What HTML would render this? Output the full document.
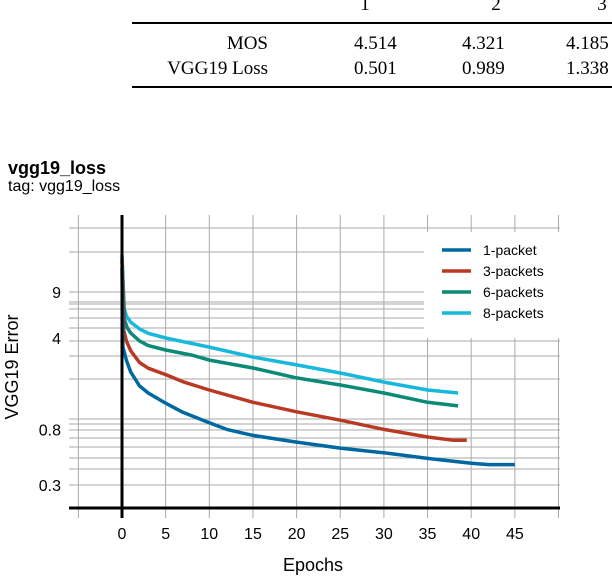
<!DOCTYPE html>
<html><head><meta charset="utf-8"><style>
html,body{margin:0;padding:0;background:#fff;}
body{width:612px;height:576px;overflow:hidden;position:relative;}
svg{position:absolute;left:0;top:0;}
</style></head><body>
<svg width="612" height="576" viewBox="0 0 612 576" xmlns="http://www.w3.org/2000/svg">
<g font-family="Liberation Serif, serif" font-size="19" fill="#000">
  <text x="365" y="10" text-anchor="middle">1</text>
  <text x="496" y="10" text-anchor="middle">2</text>
  <text x="602" y="10" text-anchor="middle">3</text>
  <line x1="132" y1="23" x2="612" y2="23" stroke="#000" stroke-width="2"/>
  <text x="268" y="49" text-anchor="end">MOS</text>
  <text x="354" y="49">4.514</text>
  <text x="462" y="49">4.321</text>
  <text x="566" y="49">4.185</text>
  <text x="268" y="74" text-anchor="end">VGG19 Loss</text>
  <text x="354" y="74">0.501</text>
  <text x="462" y="74">0.989</text>
  <text x="566" y="74">1.338</text>
  <line x1="132" y1="87" x2="612" y2="87" stroke="#000" stroke-width="2"/>
</g>
<g font-family="Liberation Sans, sans-serif" fill="#000">
  <text x="8" y="174" font-size="18" font-weight="bold">vgg19_loss</text>
  <text x="8" y="191" font-size="16">tag: vgg19_loss</text>
</g>
<g id="grid"></g>
<rect x="424" y="232" width="136" height="106" fill="#fff"/>
<g id="series"></g>
<g id="axes"></g>
<g id="legend" font-family="Liberation Sans, sans-serif" font-size="14"></g>
<text x="313" y="571" font-family="Liberation Sans, sans-serif" font-size="18" text-anchor="middle">Epochs</text>
<text transform="translate(18,367) rotate(-90)" font-family="Liberation Sans, sans-serif" font-size="18" text-anchor="middle">VGG19 Error</text>
</svg>
<script>
const xTicks = [0,5,10,15,20,25,30,35,40,45];
const xGrid = [-5,0,5,10,15,20,25,30,35,40,45,50];
const yTicks = [9,4,0.8,0.3];
const yTickLabels = ["9","4","0.8","0.3"];
const seriesNames = ["1-packet","3-packets","6-packets","8-packets"];
const epochs1 = [0,0.1,0.5,1,2,3,5,7,10,12,15,20,25,30,35,40,42,45];
const values1 = [13.7,3.41,2.7,2.2,1.72,1.52,1.27,1.08,0.90,0.8,0.72,0.64,0.575,0.53,0.48,0.44,0.43,0.43];
const epochs3 = [0,0.2,0.5,1,2,3,5,7,10,15,20,25,30,35,38,39.5];
const values3 = [15.8,4.6,3.8,3.2,2.6,2.35,2.1,1.85,1.6,1.29,1.09,0.94,0.8,0.70,0.66,0.66];
const epochs6 = [0,0.3,0.6,1,2,3,5,8,10,15,20,25,30,35,38.5];
const values6 = [16.4,5.5,4.8,4.37,3.8,3.5,3.24,2.96,2.71,2.36,1.98,1.75,1.52,1.29,1.21];
const epochs8 = [0,0.2,0.5,1,2,3,5,10,15,20,25,30,35,38.5];
const values8 = [17.3,6.9,5.9,5.3,4.7,4.35,4.0,3.41,2.86,2.49,2.16,1.84,1.6,1.52];
const colors = ["#0068a0","#b83a25","#0a8a77","#18b8dc"];

const NS="http://www.w3.org/2000/svg";
function xs(e){return 122 + e*8.73;}
function ys(v){return 292 + (Math.log10(9)-Math.log10(v))*130.7;}
function mk(tag,attrs,parent){const el=document.createElementNS(NS,tag);for(const k in attrs)el.setAttribute(k,attrs[k]);parent.appendChild(el);return el;}

const grid=document.getElementById('grid');
xGrid.forEach(e=>{
  const x=xs(e);
  const covered = x>424 && x<560;
  if(covered){
    let l=mk('line',{x1:x,y1:215,x2:x,y2:232,stroke:'#aaa','stroke-width':1},grid);
    
    
  }
  let l=mk('line',{x1:x,y1:covered?338:215,x2:x,y2:518,stroke:'#aaa','stroke-width':1},grid);
  
  
});
const hLines=[[228,560],[252,424],[292,424],[302,424],[304,424],[309,424],[318,424],[328,424],[341,560],[356,560],[379,560],[419,560],[424,560],[430,560],[438,560],[447,560],[458,560],[469,560],[485,560]];
hLines.forEach(h=>{
  let l=mk('line',{x1:69,y1:h[0],x2:h[1],y2:h[0],stroke:'#aaa','stroke-width':1},grid);
  
  
});

const ser=document.getElementById('series');
const allE=[epochs1,epochs3,epochs6,epochs8], allV=[values1,values3,values6,values8];
[3,2,1,0].forEach(i=>{
  const d=allE[i].map((e,j)=>(j?'L':'M')+xs(e).toFixed(1)+','+ys(allV[i][j]).toFixed(1)).join(' ');
  const p=mk('path',{d:d,fill:'none',stroke:colors[i],'stroke-width':3.5,'stroke-linejoin':'round'},ser);
  
  
});

const ax=document.getElementById('axes');
let a1=mk('line',{x1:122,y1:215,x2:122,y2:518,stroke:'#000','stroke-width':3},ax);


let a2=mk('line',{x1:69,y1:508,x2:560,y2:508,stroke:'#000','stroke-width':3},ax);


xTicks.forEach(e=>{
  const t=mk('text',{x:xs(e),y:539,'font-family':'Liberation Sans, sans-serif','font-size':16,'text-anchor':'middle'},ax);
  t.textContent=String(e);
  
  
});
yTicks.forEach((v,i)=>{
  const t=mk('text',{x:61,y:ys(v)+6,'font-family':'Liberation Sans, sans-serif','font-size':16,'text-anchor':'end'},ax);
  t.textContent=yTickLabels[i];
  
  
});

const lg=document.getElementById('legend');
seriesNames.forEach((n,i)=>{
  const y=250+i*21;
  const g=mk('g',{},lg);
  
  
  mk('line',{x1:442,y1:y,x2:471,y2:y,stroke:colors[i],'stroke-width':3.5},g);
  const t=mk('text',{x:483,y:y+5},g);
  t.textContent=n;
});
</script>
</body></html>
